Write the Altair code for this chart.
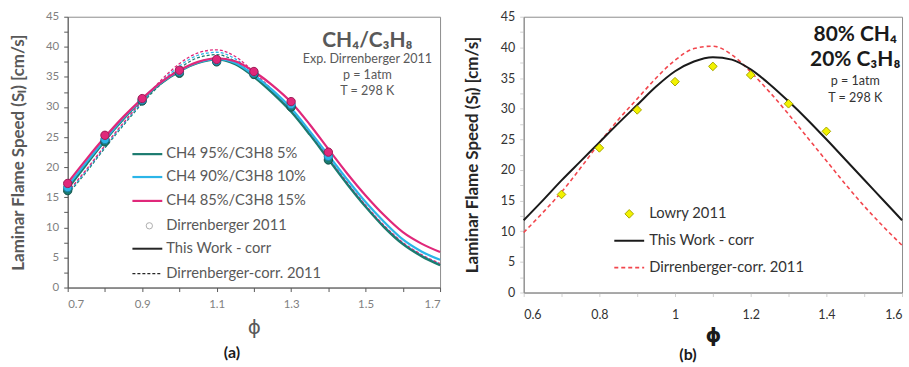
import altair as alt
import pandas as pd

# ---------------- Panel (a) data ----------------
phi_a = [0.70, 0.75, 0.80, 0.85, 0.90, 0.95, 1.00, 1.05, 1.10, 1.15, 1.20,
         1.25, 1.30, 1.35, 1.40, 1.45, 1.50, 1.55, 1.60, 1.65, 1.70]
this_95 = [16.4, 20.4, 24.4, 28.0, 31.2, 33.9, 35.9, 37.3, 37.9, 37.1, 35.0,
           32.3, 29.2, 25.4, 21.3, 17.2, 13.4, 10.0, 7.2, 5.2, 3.7]
this_90 = [16.9, 20.8, 24.6, 28.2, 31.3, 34.0, 36.0, 37.4, 38.0, 37.3, 35.3,
           32.8, 29.8, 26.0, 22.0, 18.0, 14.2, 10.9, 8.0, 6.0, 4.6]
this_85 = [17.4, 21.3, 25.0, 28.4, 31.4, 34.1, 36.1, 37.5, 38.1, 37.6, 35.9,
           33.6, 30.8, 27.1, 23.0, 19.0, 15.3, 12.0, 9.2, 7.3, 5.9]
dirr_95 = [15.5, 19.2, 23.2, 27.0, 30.6, 33.8, 36.4, 38.2, 38.7, 37.6, 35.2,
           32.4, 29.3, 25.5, 21.4, 17.3, 13.5, 10.1, 7.3, 5.3, 3.8]
dirr_90 = [15.7, 19.4, 23.4, 27.2, 30.8, 34.1, 36.8, 38.6, 39.1, 38.0, 35.5,
           32.6, 29.4, 25.6, 21.5, 17.4, 13.6, 10.2, 7.4, 5.4, 3.9]
dirr_85 = [15.9, 19.6, 23.6, 27.4, 31.0, 34.4, 37.2, 39.0, 39.5, 38.4, 35.8,
           32.8, 29.5, 25.7, 21.6, 17.5, 13.7, 10.3, 7.5, 5.5, 4.0]

phi_exp_a = [0.7, 0.8, 0.9, 1.0, 1.1, 1.2, 1.3, 1.4]
exp_95 = [16.1, 24.2, 31.0, 35.6, 37.5, 35.4, 30.0, 21.2]
exp_90 = [16.6, 24.6, 31.2, 35.9, 37.7, 35.7, 30.4, 21.8]
exp_85 = [17.3, 25.3, 31.4, 36.1, 37.9, 35.9, 30.9, 22.5]

mix_names = ["CH4 95%/C3H8 5%", "CH4 90%/C3H8 10%", "CH4 85%/C3H8 15%"]
mix_colors = ["#1b7b6f", "#2bb5e8", "#e0287a"]
mix_edges = ["#0f4f47", "#1a7fa8", "#9c1a55"]

# ---------------- Panel (b) data ----------------
phi_b = [0.60, 0.65, 0.70, 0.75, 0.80, 0.85, 0.90, 0.95, 1.00, 1.05, 1.10,
         1.15, 1.20, 1.25, 1.30, 1.35, 1.40, 1.45, 1.50, 1.55, 1.60]
this_b = [11.8, 15.0, 18.3, 21.4, 24.5, 27.6, 30.6, 33.6, 36.1, 37.7, 38.4,
          38.0, 36.4, 34.0, 31.2, 28.2, 25.0, 21.7, 18.4, 15.1, 11.8]
dirr_b = [9.8, 13.0, 16.4, 20.3, 24.4, 28.2, 31.6, 35.0, 37.9, 39.8, 40.2,
          38.8, 36.0, 32.7, 29.1, 25.3, 21.5, 17.7, 14.1, 10.8, 7.7]
phi_exp_b = [0.7, 0.8, 0.9, 1.0, 1.1, 1.2, 1.3, 1.4]
lowry = [16.0, 23.6, 29.8, 34.4, 36.9, 35.5, 30.8, 26.3]

FONT = "Lato"
GRAY = "#595959"

ticks_a_x = [0.7, 0.8, 0.9, 1.0, 1.1, 1.2, 1.3, 1.4, 1.5, 1.6, 1.7]
ticks_b_x = [0.6, 0.7, 0.8, 0.9, 1.0, 1.1, 1.2, 1.3, 1.4, 1.5, 1.6]
ticks_y = [0, 2.5, 5, 7.5, 10, 12.5, 15, 17.5, 20, 22.5, 25, 27.5, 30, 32.5,
           35, 37.5, 40, 42.5, 45]

Y_TITLE = "Laminar Flame Speed (Sₗ) [cm/s]"
LEG_FS = 14.8

# ---------------- build panel (a) ----------------
rows = []
for name, s_this, s_dirr in zip(mix_names, [this_95, this_90, this_85],
                                [dirr_95, dirr_90, dirr_85]):
    for p, v1, v2 in zip(phi_a, s_this, s_dirr):
        rows.append({"phi": p, "v": v1, "mix": name, "kind": "this"})
        rows.append({"phi": p, "v": v2, "mix": name, "kind": "dirr"})
curves_a = pd.DataFrame(rows)
pts = []
for name, s in zip(mix_names, [exp_95, exp_90, exp_85]):
    for p, v in zip(phi_exp_a, s):
        pts.append({"phi": p, "v": v, "mix": name})
points_a = pd.DataFrame(pts)

xa = alt.X("phi:Q", scale=alt.Scale(domain=[0.7, 1.7], nice=False, zero=False),
           axis=alt.Axis(values=ticks_a_x, title="ϕ", grid=False,
                         labelExpr="round(datum.value*10) % 2 == 1 ? format(datum.value, '.1f') : ''",
                         labelColor="#7f7f7f", labelFontSize=11.5, labelFont=FONT,
                         tickColor="#595959", domainColor="#595959", tickSize=4,
                         titleFontSize=20, titleColor=GRAY, titleFont="DejaVu Sans",
                         titleFontWeight="normal", titlePadding=8, labelPadding=7))
ya = alt.Y("v:Q", scale=alt.Scale(domain=[0, 45], nice=False),
           axis=alt.Axis(values=ticks_y, title=Y_TITLE, grid=False,
                         labelExpr="datum.value % 5 == 0 ? datum.value : ''",
                         labelColor="#7f7f7f", labelFontSize=11.5, labelFont=FONT,
                         tickColor="#595959", domainColor="#595959", tickSize=4,
                         titleFontSize=17, titleColor=GRAY, titleFont=FONT,
                         titleFontWeight="bold", titlePadding=18, labelPadding=5))

color_a = alt.Color("mix:N", scale=alt.Scale(domain=mix_names, range=mix_colors), legend=None)

dirr_lines_a = alt.Chart(curves_a[curves_a.kind == "dirr"]).mark_line(
    interpolate="monotone", strokeDash=[3, 2], strokeWidth=1.3
).encode(x=xa, y=ya, color=color_a, detail="mix:N",
         order=alt.Order("phi:Q"))
this_lines_a = alt.Chart(curves_a[curves_a.kind == "this"]).mark_line(
    interpolate="monotone", strokeWidth=2.2
).encode(x=xa, y=ya, color=color_a, detail="mix:N", order=alt.Order("phi:Q"))
pts_a = alt.Chart(points_a).mark_point(filled=True, size=70, opacity=1,
                                       strokeWidth=1).encode(
    x=xa, y=ya, color=color_a,
    stroke=alt.Stroke("mix:N", scale=alt.Scale(domain=mix_names, range=mix_edges), legend=None))

# legend (a)
leg_rows_y = [138, 161, 185, 210, 233, 258]
leg_labels_a = mix_names + ["Dirrenberger 2011", "This Work - corr", "Dirrenberger-corr. 2011"]
one = pd.DataFrame({"k": [0]})
leg_layers_a = []
for i, (lab, col) in enumerate(zip(mix_names, mix_colors)):
    leg_layers_a.append(alt.Chart(one).mark_rule(color=col, strokeWidth=2.2).encode(
        x=alt.value(65), x2=alt.value(95), y=alt.value(leg_rows_y[i])))
leg_layers_a.append(alt.Chart(one).mark_point(color="#8c8c8c", size=40, strokeWidth=1).encode(
    x=alt.value(82), y=alt.value(leg_rows_y[3])))
leg_layers_a.append(alt.Chart(one).mark_rule(color="#262626", strokeWidth=2).encode(
    x=alt.value(65), x2=alt.value(95), y=alt.value(leg_rows_y[4])))
leg_layers_a.append(alt.Chart(one).mark_rule(color="#262626", strokeWidth=1.2, strokeDash=[3, 2]).encode(
    x=alt.value(65), x2=alt.value(95), y=alt.value(leg_rows_y[5])))
leg_text_a = alt.Chart(pd.DataFrame({"t": leg_labels_a, "py": leg_rows_y})).mark_text(
    align="left", baseline="middle", font=FONT, fontSize=LEG_FS, color=GRAY
).encode(x=alt.value(99), y=alt.Y("py:Q", scale=None), text="t:N")

ann_a_bold = alt.Chart(pd.DataFrame({"t": ["CH₄/C₃H₈"]})).mark_text(
    align="center", baseline="middle", font=FONT, fontSize=21, fontWeight="bold", color=GRAY
).encode(x=alt.value(301), y=alt.value(24), text="t:N")
ann_a_small = alt.Chart(pd.DataFrame({
    "t": ["Exp. Dirrenberger 2011", "p = 1atm", "T = 298 K"], "py": [42, 59, 75]})
).mark_text(align="center", baseline="middle", font=FONT, fontSize=12.6, color=GRAY).encode(
    x=alt.value(301), y=alt.Y("py:Q", scale=None), text="t:N")
lab_a = alt.Chart(pd.DataFrame({"t": ["(a)"]})).mark_text(
    align="center", baseline="middle", font=FONT, fontSize=16, fontWeight="bold", color="#1a1a1a"
).encode(x=alt.value(165), y=alt.value(338), text="t:N")

panel_a = alt.layer(dirr_lines_a, this_lines_a, pts_a, *leg_layers_a, leg_text_a,
                    ann_a_bold, ann_a_small, lab_a).properties(width=374, height=272)

# ---------------- build panel (b) ----------------
curves_b = pd.DataFrame({"phi": phi_b + phi_b, "v": this_b + dirr_b,
                         "kind": ["this"] * len(phi_b) + ["dirr"] * len(phi_b)})
points_b = pd.DataFrame({"phi": phi_exp_b, "v": lowry})

xb = alt.X("phi:Q", scale=alt.Scale(domain=[0.6, 1.6], nice=False, zero=False),
           axis=alt.Axis(values=ticks_b_x, title="ϕ", grid=False,
                         labelExpr="round(datum.value*10) % 2 == 0 ? format(datum.value, '~g') : ''",
                         labelColor="#333333", labelFontSize=12.5, labelFont=FONT,
                         tickColor="#d0d0d0", domainColor="#8c8c8c", tickSize=4,
                         titleFontSize=20, titleColor="#1a1a1a", titleFont="DejaVu Sans",
                         titleFontWeight="bold", titlePadding=5, labelPadding=12))
yb = alt.Y("v:Q", scale=alt.Scale(domain=[0, 45], nice=False),
           axis=alt.Axis(values=ticks_y, title=Y_TITLE, grid=False,
                         labelExpr="datum.value % 5 == 0 ? datum.value : ''",
                         labelColor="#333333", labelFontSize=12.5, labelFont=FONT,
                         tickColor="#d0d0d0", domainColor="#8c8c8c", tickSize=4,
                         titleFontSize=17, titleColor="#262626", titleFont=FONT,
                         titleFontWeight="bold", titlePadding=19, labelPadding=5))

dirr_line_b = alt.Chart(curves_b[curves_b.kind == "dirr"]).mark_line(
    interpolate="monotone", strokeDash=[4, 3], strokeWidth=1.6, color="#f2464d"
).encode(x=xb, y=yb, order=alt.Order("phi:Q"))
this_line_b = alt.Chart(curves_b[curves_b.kind == "this"]).mark_line(
    interpolate="monotone", strokeWidth=2, color="#1a1a1a"
).encode(x=xb, y=yb, order=alt.Order("phi:Q"))
pts_b = alt.Chart(points_b).mark_point(shape="diamond", filled=True, size=75, opacity=1,
                                       color="#f2f200", stroke="#a6a600", strokeWidth=1).encode(x=xb, y=yb)

leg_b = [
    alt.Chart(one).mark_point(shape="diamond", filled=True, size=75, opacity=1,
                              color="#f2f200", stroke="#a6a600", strokeWidth=1).encode(
        x=alt.value(106), y=alt.value(198)),
    alt.Chart(one).mark_rule(color="#1a1a1a", strokeWidth=2).encode(
        x=alt.value(91), x2=alt.value(121), y=alt.value(225)),
    alt.Chart(one).mark_rule(color="#f2464d", strokeWidth=1.6, strokeDash=[4, 3]).encode(
        x=alt.value(91), x2=alt.value(121), y=alt.value(252)),
]
leg_text_b = alt.Chart(pd.DataFrame({
    "t": ["Lowry 2011", "This Work - corr", "Dirrenberger-corr. 2011"], "py": [198, 225, 252]})
).mark_text(align="left", baseline="middle", font=FONT, fontSize=LEG_FS, color="#333333").encode(
    x=alt.value(126), y=alt.Y("py:Q", scale=None), text="t:N")
ann_b_bold = alt.Chart(pd.DataFrame({"t": ["80% CH₄", "20% C₃H₈"], "py": [18, 43]})).mark_text(
    align="center", baseline="middle", font=FONT, fontSize=21, fontWeight="bold", color="#1a1a1a"
).encode(x=alt.value(333), y=alt.Y("py:Q", scale=None), text="t:N")
ann_b_small = alt.Chart(pd.DataFrame({"t": ["p = 1atm", "T = 298 K"], "py": [65, 82]})).mark_text(
    align="center", baseline="middle", font=FONT, fontSize=12.6, color="#333333"
).encode(x=alt.value(333), y=alt.Y("py:Q", scale=None), text="t:N")
lab_b = alt.Chart(pd.DataFrame({"t": ["(b)"]})).mark_text(
    align="center", baseline="middle", font=FONT, fontSize=16, fontWeight="bold", color="#1a1a1a"
).encode(x=alt.value(165), y=alt.value(340), text="t:N")

panel_b = alt.layer(dirr_line_b, this_line_b, pts_b, *leg_b, leg_text_b,
                    ann_b_bold, ann_b_small, lab_b).properties(width=380, height=277)

chart = alt.hconcat(panel_a, panel_b, spacing=18).resolve_scale(
    color="independent", stroke="independent"
).configure_view(stroke="#8c8c8c", strokeWidth=1).properties(
    padding={"left": 9, "top": 9, "right": 2, "bottom": 2}, background="white")

chart.save("out.html", embed_options={"renderer": "svg", "actions": False})
